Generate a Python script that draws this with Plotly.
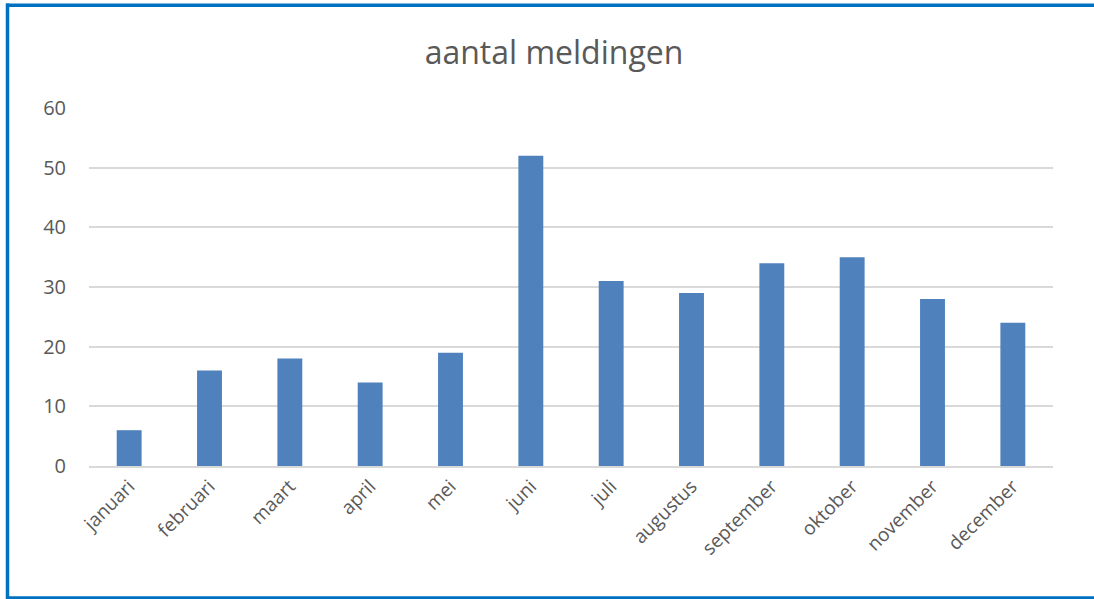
import plotly.graph_objects as go

# data
maanden = ['januari', 'februari', 'maart', 'april', 'mei', 'juni',
           'juli', 'augustus', 'september', 'oktober', 'november', 'december']
meldingen = [6, 16, 18, 14, 19, 52, 31, 29, 34, 35, 28, 24]
y_ticks = [0, 10, 20, 30, 40, 50, 60]

W, H = 1094, 599
L, R, T, B = 89, 41, 108, 133
pw, ph = W - L - R, H - T - B


def px_x(x):
    return (x - L) / pw


def px_y(y):
    return (H - B - y) / ph


fig = go.Figure()

fig.add_trace(go.Bar(
    x=maanden,
    y=meldingen,
    marker=dict(color='#4F81BD', line=dict(width=0)),
))

fig.update_layout(
    width=W, height=H,
    margin=dict(l=L, r=R, t=T, b=B),
    paper_bgcolor='white',
    plot_bgcolor='white',
    bargap=0.69,
    showlegend=False,
    font=dict(family='Open Sans, sans-serif', color='#595959'),
    title=dict(text='aantal meldingen', x=554 / W, xanchor='center',
               y=1 - 53 / H, yanchor='middle',
               font=dict(size=32, color='#595959')),
    xaxis=dict(tickangle=-45, tickfont=dict(size=19),
               showline=True, linecolor='#D9D9D9', linewidth=1.5,
               ticks='', showgrid=False),
    yaxis=dict(range=[0, 60], tickvals=y_ticks, tickfont=dict(size=20),
               showgrid=True, gridcolor='#D9D9D9', gridwidth=1.5,
               zeroline=False, ticklabelstandoff=22),
)

# blauwe rand (boven, onder, links) rond de grafiek
rand = dict(color='#0070C0', width=3.5)
fig.add_shape(type='line', xref='paper', yref='paper', layer='above',
              x0=px_x(6), x1=px_x(W + 5), y0=px_y(5.2), y1=px_y(5.2), line=rand)
fig.add_shape(type='line', xref='paper', yref='paper', layer='above',
              x0=px_x(6), x1=px_x(W + 5), y0=px_y(598), y1=px_y(598), line=rand)
fig.add_shape(type='line', xref='paper', yref='paper', layer='above',
              x0=px_x(7.5), x1=px_x(7.5), y0=px_y(3.5), y1=px_y(H + 5), line=rand)

# standaard body-marge van de pagina weghalen, geen modebar
fig.write_html('out.html', config={'displayModeBar': False},
               post_script="document.body.style.margin='0';")
